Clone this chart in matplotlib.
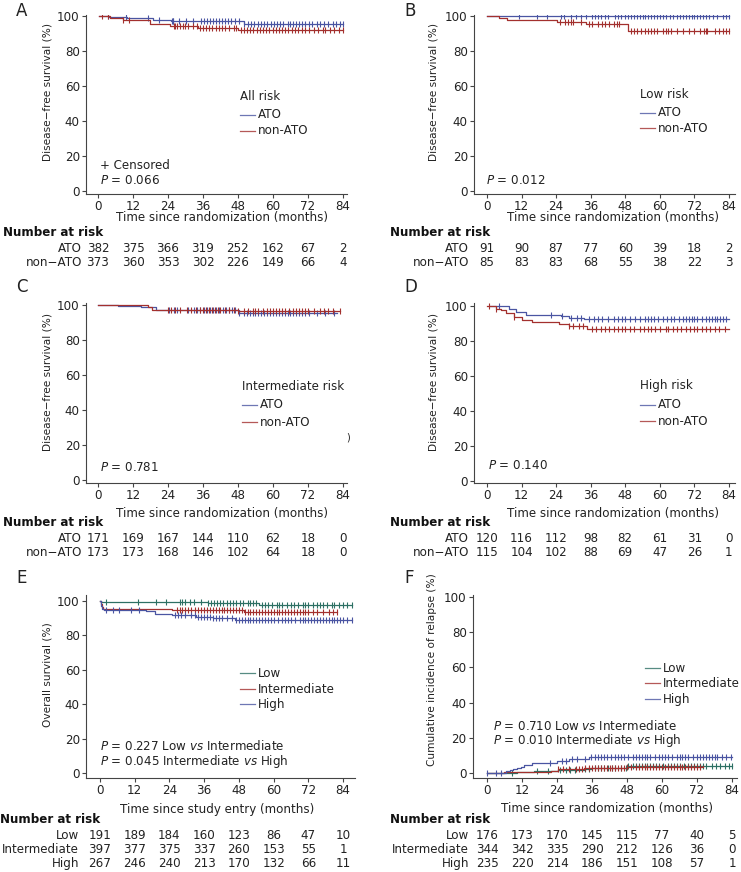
import numpy as np
import matplotlib
matplotlib.use("Agg")
import matplotlib.pyplot as plt
from matplotlib.transforms import blended_transform_factory
from matplotlib.lines import Line2D

plt.rcParams['font.family'] = ['DejaVu Sans']
plt.rcParams['mathtext.fontset'] = 'dejavusans'

W, H = 741, 872
FS = 8.6
YFS = 7.6
TXT = '#222222'
BLUE = '#4a55a2'
RED = '#a3302e'
GREEN = '#2d7064'

month_ticks = [0, 12, 24, 36, 48, 60, 72, 84]
pct_ticks = [0, 20, 40, 60, 80, 100]

# ---------------- data ----------------
# Panel A: all risk DFS
A_ato_t = [0.5, 3.9, 10, 19, 25, 50, 84]
A_ato_s = [100, 99.3, 98.7, 97.5, 97.0, 95.6, 95.6]
A_non_t = [0.5, 4, 8.6, 17.8, 24.7, 34.3, 48, 84]
A_non_s = [100, 99.0, 97.8, 95.3, 94.3, 93.0, 92.2, 92.2]
A_ato_c = [3.3, 9.6, 17, 21, 25.3, 25.6, 25.9, 27.9, 30.2, 32.5, 35.3, 36.5, 37.5, 38.5, 39.5, 40.5, 41.5, 42.5,
           43.5, 44.5, 45.5, 47, 48.5, 50, 51.5, 52.5, 53.5, 55, 56, 57, 58, 59.5, 60.5, 61.5, 62.5, 63.5, 65, 66,
           67, 68, 69, 70, 71, 72.5, 73.5, 75, 76, 77.5, 79, 80.5, 81.5, 83, 84]
A_non_c = [1.5, 3.5, 8.7, 10.5, 26, 26.5, 27, 28, 29, 30, 31, 32.5, 34, 35, 36, 37, 38, 39, 40.5, 41.5, 42.5, 43.5,
           45, 46.5, 47.5, 49, 50, 51, 52, 53, 54.5, 55.5, 56.5, 57.5, 58.5, 60, 61, 62, 63, 64, 65, 66.5, 67.5,
           68.5, 70, 71, 72.5, 74, 75.5, 77, 78, 79.5, 81, 82.5, 84]
A_risk_ato = [382, 375, 366, 319, 252, 162, 67, 2]
A_risk_non = [373, 360, 353, 302, 226, 149, 66, 4]

# Panel B: low risk DFS
B_ato_t = [0, 84]
B_ato_s = [100, 100]
B_non_t = [0, 4.2, 7, 24.3, 34.4, 49, 84]
B_non_s = [100, 98.8, 97.6, 96.4, 95.2, 91.2, 91.2]
B_ato_c = [11.1, 17.5, 20.9, 25.6, 26.7, 29, 30.8, 32.5, 34.3, 36.5, 37.5, 38.5, 39.5, 41, 42, 44.5, 45.5, 46.5,
           48, 49, 50, 51, 52, 53, 54, 55, 56, 57, 58, 59, 60, 61, 62, 63.5, 64.5, 66, 67, 68, 69, 70, 71, 72, 73,
           74, 75, 76, 77, 78.5, 80, 82, 83, 84]
B_non_c = [25.5, 27, 28, 29, 30, 32.5, 35.5, 36.5, 38.5, 40, 41, 42.5, 44, 45, 46, 50, 51, 52, 53.5, 55, 56, 57, 58,
           59, 61, 62, 63, 64, 66, 68, 70, 72, 74, 75.5, 76, 76.5, 79, 80.5, 82, 83, 84]
B_risk_ato = [91, 90, 87, 77, 60, 39, 18, 2]
B_risk_non = [85, 83, 83, 68, 55, 38, 22, 3]

# Panel C: intermediate risk DFS
C_ato_t = [0, 6.9, 14.6, 19.9, 48.5, 82]
C_ato_s = [100, 99.4, 98.8, 97.2, 95.5, 95.5]
C_non_t = [0, 17, 18.5, 48, 83]
C_non_s = [100, 98.8, 97.0, 96.5, 96.5]
C_ato_c = [24.5, 26, 27, 31, 33, 34, 35, 36.5, 37.5, 38.5, 39.5, 40.5, 41.5, 43, 44, 45, 46, 47, 48.5, 50, 51, 52,
           53, 54, 55, 56, 57, 58, 59, 60, 61, 62, 63, 64, 65, 66, 67, 68, 69, 70, 71, 72.5, 75, 78, 81]
C_non_c = [24, 25, 26.5, 28, 30.5, 32, 33.5, 35, 36, 37, 38, 39, 40, 41, 42, 43.5, 45, 46.5, 48, 50, 51.5, 53, 54,
           55, 56.5, 58, 59, 60, 61, 62, 63, 64, 65.5, 67, 68, 69, 70, 71, 72, 74, 76, 77.5, 79, 80.5, 83]
C_risk_ato = [171, 169, 167, 144, 110, 62, 18, 0]
C_risk_non = [173, 173, 168, 146, 102, 64, 18, 0]

# Panel D: high risk DFS
D_ato_t = [0.7, 7.6, 10, 13.4, 25.6, 28.5, 33.7, 84]
D_ato_s = [100, 98.5, 96.6, 94.7, 94.1, 93.3, 92.8, 92.8]
D_non_t = [0, 3, 4.8, 6.5, 9.4, 12.3, 15.7, 25, 28.5, 34.8, 84]
D_non_s = [100, 98.5, 97.5, 96.0, 93.7, 92.2, 91.0, 89.9, 88.4, 87.1, 87.1]
D_ato_c = [4.2, 22.1, 26.2, 29, 31.3, 32.5, 35.5, 37, 38.5, 40, 42, 44, 45.5, 47, 48, 49.5, 51.5, 53, 55, 56, 57,
           58, 59.5, 61, 62.5, 64, 65, 66.5, 68, 69, 70, 71, 72, 73, 74.5, 76, 77, 78, 79, 80, 81, 82, 83]
D_non_c = [0.7, 3, 9.5, 28.5, 30, 32, 33.5, 36.5, 38, 39.5, 41, 42.5, 44, 45.5, 47, 48, 49.5, 51, 53, 54.5, 56, 57,
           58.5, 60, 62, 63, 64.5, 66, 67.5, 69, 70.5, 72, 73, 74.5, 76, 77.5, 79, 80.5, 82.5]
D_risk_ato = [120, 116, 112, 98, 82, 61, 31, 0]
D_risk_non = [115, 104, 102, 88, 69, 47, 26, 1]

# Panel E: overall survival by risk group
E_low_t = [0, 0.5, 37.2, 55, 87]
E_low_s = [100, 99.5, 98.7, 97.5, 97.5]
E_int_t = [0, 0.3, 0.7, 1.2, 25, 49.6, 82]
E_int_s = [100, 98, 96.5, 95.3, 94.8, 93.4, 93.4]
E_high_t = [0, 0.3, 0.8, 1.5, 16, 19, 25, 33.2, 39, 46.5, 87]
E_high_s = [100, 97, 95.5, 94.9, 94.0, 92.6, 92.0, 90.7, 90.0, 89.2, 89.2]
E_low_c = [2, 13, 19.4, 22.8, 27.5, 28.5, 29.5, 31, 32.5, 35, 37.5, 38.5, 39.5, 40.5, 41.5, 42.5, 44, 45, 46, 47,
           48.5, 49.5, 51, 52, 53, 54, 56, 57, 58, 59.5, 61, 62, 63, 64.5, 66, 67, 68.5, 70, 71, 72, 73.5, 75, 76,
           77, 78.5, 80, 81, 82.5, 84, 85.5, 87]
E_int_c = [26.5, 27.5, 28.5, 29.5, 30.5, 31.5, 33, 34, 35, 36, 37, 38, 39, 40, 41, 42, 43, 44, 45, 46, 47, 48, 49,
           50, 51, 52, 53, 54, 55, 56, 57, 58, 59, 60, 61, 62, 63, 64, 65, 66, 67, 68, 69, 70, 71, 72, 73.5, 75,
           77, 79, 80.5, 82]
E_high_c = [2, 4.4, 6.7, 10.7, 13.6, 26, 27, 28, 29.3, 31.5, 33, 34, 35, 36, 37, 38, 39, 40, 41, 42, 44, 45.5, 47,
            48, 49, 50, 51, 52, 53, 54, 55, 56, 57, 58, 59, 60, 61.5, 63, 64, 65, 66, 67.5, 69, 70, 71, 72, 73, 74,
            75, 76, 77, 78, 79, 80, 81, 82, 83, 84, 85.5, 87]
E_risk_low = [191, 189, 184, 160, 123, 86, 47, 10]
E_risk_int = [397, 377, 375, 337, 260, 153, 55, 1]
E_risk_high = [267, 246, 240, 213, 170, 132, 66, 11]

# Panel F: cumulative incidence of relapse
F_low_t = [0, 6.4, 10.4, 16.1, 24.2, 33.3, 35.6, 48, 84]
F_low_s = [0, 0.3, 0.8, 1.3, 1.8, 2.1, 2.6, 4.0, 4.2]
F_int_t = [0, 5.9, 8, 21.8, 24.2, 33.3, 48, 74]
F_int_s = [0, 0.4, 0.8, 1.1, 2.1, 2.6, 3.6, 3.9]
F_high_t = [0, 6.4, 8, 9, 10.3, 11.5, 12.7, 15.4, 24, 28, 35, 84]
F_high_s = [0, 1.0, 1.6, 2.2, 2.8, 3.6, 4.5, 5.9, 7.0, 8.0, 9.0, 9.0]
F_low_c = [8.5, 17, 21, 25, 27, 28.5, 30, 33.5, 35, 37, 38, 39, 40, 41.5, 43, 44, 46, 47.5, 48.5, 50, 51, 52, 53,
           54, 55, 56, 57, 58, 59, 60.5, 62, 63, 64, 65, 66, 67.5, 69, 70, 71, 72, 73, 74, 75, 77, 78.5, 80, 81.5,
           83, 84]
F_int_c = [24.5, 26, 28, 30.5, 31.5, 32.5, 33.5, 35, 36, 37, 38, 39, 40, 41, 42, 43, 44, 45, 46, 47, 48, 49.5, 51,
           52, 53, 54, 55, 56, 57, 58, 59, 60, 61, 62, 63, 64, 65, 66, 67, 68, 69, 70, 71, 72, 73]
F_high_c = [0.1, 3, 4.7, 21.5, 25.6, 27, 29, 31, 33.5, 35.5, 37, 38, 39, 40, 41, 42.5, 44, 45, 46, 47, 48.5, 50, 51,
            52, 53, 54, 55, 56, 57.5, 59, 60, 61, 62, 63.5, 65, 66, 67, 68, 69, 70.5, 72, 73, 74, 75, 76, 77, 78,
            79, 80.5, 82, 83.5]
F_risk_low = [176, 173, 170, 145, 115, 77, 40, 5]
F_risk_int = [344, 342, 335, 290, 212, 126, 36, 0]
F_risk_high = [235, 220, 214, 186, 151, 108, 57, 1]

# ---------------- helpers ----------------
fig = plt.figure(figsize=(W / 100, H / 100), dpi=100)


def fx(x):
    return x / W


def fy(y):
    return 1 - y / H


def make_ax(box, xlim, ylim):
    x0, x1, y0, y1 = box
    ax = fig.add_axes([fx(x0), fy(y1), (x1 - x0) / W, (y1 - y0) / H])
    ax.set_xlim(*xlim)
    ax.set_ylim(*ylim)
    for s in ['top', 'right']:
        ax.spines[s].set_visible(False)
    for s in ['left', 'bottom']:
        ax.spines[s].set_color('#444444')
        ax.spines[s].set_linewidth(0.8)
    ax.set_xticks(month_ticks)
    ax.set_yticks(pct_ticks)
    ax.tick_params(axis='both', length=3, width=0.8, color='#444444', labelsize=FS, labelcolor=TXT)
    ax.tick_params(axis='x', pad=1.5)
    ax.tick_params(axis='y', pad=1.5)
    ax.patch.set_alpha(0)
    return ax


def curve(ax, t, s, c, col):
    ax.step(t, s, where='post', color=col, lw=0.9)
    t_arr = np.asarray(t)
    s_arr = np.asarray(s)
    idx = np.clip(np.searchsorted(t_arr, np.asarray(c), side='right') - 1, 0, len(s_arr) - 1)
    ax.plot(c, s_arr[idx], ls='none', marker='|', ms=4, mew=0.8, color=col)


def ftext(x, y, s, **kw):
    kw.setdefault('fontsize', FS)
    kw.setdefault('color', TXT)
    kw.setdefault('va', 'center')
    fig.text(fx(x), fy(y), s, **kw)


def risk_table(ax, title_xy, label_x, rows_y, labels, rows):
    ftext(title_xy[0], title_xy[1], 'Number at risk', fontweight='bold', ha='left', color='#111111')
    tr = blended_transform_factory(ax.transData, fig.transFigure)
    for yy, lab, vals in zip(rows_y, labels, rows):
        ftext(label_x, yy, lab, ha='right')
        for m, v in zip(month_ticks, vals):
            ax.text(m, fy(yy), str(v), transform=tr, ha='center', va='center', fontsize=FS, color=TXT,
                    clip_on=False)


def legend(x0, title, title_y, entries):
    # entries: list of (color, label, y)
    if title:
        ftext(x0, title_y, title, ha='left')
    for col, lab, yy in entries:
        fig.add_artist(Line2D([fx(x0), fx(x0 + 15)], [fy(yy), fy(yy)], color=col, lw=0.9, alpha=0.8,
                              transform=fig.transFigure))
        ftext(x0 + 18, yy, lab, ha='left')


# ---------------- Panel A ----------------
axA = make_ax((86, 347, 15, 194), (-4.1, 85.4), (-1.7, 100.6))
curve(axA, A_ato_t, A_ato_s, A_ato_c, BLUE)
curve(axA, A_non_t, A_non_s, A_non_c, RED)
legend(240, 'All risk', 96, [(BLUE, 'ATO', 115), (RED, 'non-ATO', 131)])
ftext(100, 165, '+ Censored', ha='left')
ftext(100, 180, r'$P$ = 0.066', ha='left')
ftext(48, 92, 'Disease\u2212free survival (%)', rotation=90, ha='center', fontsize=YFS)
ftext(222, 218, 'Time since randomization (months)', ha='center')
risk_table(axA, (3, 232), 82, [248, 263], ['ATO', 'non\u2212ATO'], [A_risk_ato, A_risk_non])
ftext(16, 11, 'A', fontsize=12, ha='left')

# ---------------- Panel B ----------------
axB = make_ax((474, 735, 15, 194), (-4.5, 86.1), (-1.7, 100.6))
curve(axB, B_ato_t, B_ato_s, B_ato_c, BLUE)
curve(axB, B_non_t, B_non_s, B_non_c, RED)
legend(640, 'Low risk', 95, [(BLUE, 'ATO', 113), (RED, 'non-ATO', 128)])
ftext(486, 180, r'$P$ = 0.012', ha='left')
ftext(433, 92, 'Disease\u2212free survival (%)', rotation=90, ha='center', fontsize=YFS)
ftext(613, 218, 'Time since randomization (months)', ha='center')
risk_table(axB, (390, 232), 469, [248, 263], ['ATO', 'non\u2212ATO'], [B_risk_ato, B_risk_non])
ftext(404, 11, 'B', fontsize=12, ha='left')

# ---------------- Panel C ----------------
axC = make_ax((86, 347, 303, 483), (-4.1, 85.4), (-1.7, 101.1))
curve(axC, C_ato_t, C_ato_s, C_ato_c, BLUE)
curve(axC, C_non_t, C_non_s, C_non_c, RED)
legend(242, 'Intermediate risk', 387, [(BLUE, 'ATO', 405), (RED, 'non-ATO', 422)])
ftext(100, 467, r'$P$ = 0.781', ha='left')
ftext(348, 437, ')', ha='center', fontsize=7)
ftext(48, 382, 'Disease\u2212free survival (%)', rotation=90, ha='center', fontsize=YFS)
ftext(222, 514, 'Time since randomization (months)', ha='center')
risk_table(axC, (3, 522), 82, [538, 552], ['ATO', 'non\u2212ATO'], [C_risk_ato, C_risk_non])
ftext(16, 287, 'C', fontsize=12, ha='left')

# ---------------- Panel D ----------------
axD = make_ax((474, 735, 303, 483), (-4.5, 86.1), (-1.2, 101.7))
curve(axD, D_ato_t, D_ato_s, D_ato_c, BLUE)
curve(axD, D_non_t, D_non_s, D_non_c, RED)
legend(640, 'High risk', 386, [(BLUE, 'ATO', 405), (RED, 'non-ATO', 421)])
ftext(488, 465, r'$P$ = 0.140', ha='left')
ftext(433, 382, 'Disease\u2212free survival (%)', rotation=90, ha='center', fontsize=YFS)
ftext(613, 514, 'Time since randomization (months)', ha='center')
risk_table(axD, (390, 522), 469, [538, 552], ['ATO', 'non\u2212ATO'], [D_risk_ato, D_risk_non])
ftext(404, 287, 'D', fontsize=12, ha='left')

# ---------------- Panel E ----------------
axE = make_ax((86, 355, 595, 778), (-4.8, 88.1), (-2.9, 103.5))
curve(axE, E_low_t, E_low_s, E_low_c, GREEN)
curve(axE, E_int_t, E_int_s, E_int_c, RED)
curve(axE, E_high_t, E_high_s, E_high_c, BLUE)
legend(240, None, None, [(GREEN, 'Low', 673), (RED, 'Intermediate', 689), (BLUE, 'High', 704)])
ftext(100, 746, r'$P$ = 0.227 Low $vs$ Intermediate', ha='left')
ftext(100, 761, r'$P$ = 0.045 Intermediate $vs$ High', ha='left')
ftext(48, 675, 'Overall survival (%)', rotation=90, ha='center', fontsize=YFS)
ftext(217, 809, 'Time since study entry (months)', ha='center')
risk_table(axE, (0, 819), 79, [835, 849, 863], ['Low', 'Intermediate', 'High'],
           [E_risk_low, E_risk_int, E_risk_high])
ftext(16, 578, 'E', fontsize=12, ha='left')

# ---------------- Panel F ----------------
axF = make_ax((473, 737, 595, 778), (-4.8, 85.7), (-2.8, 101.1))
curve(axF, F_low_t, F_low_s, F_low_c, GREEN)
curve(axF, F_int_t, F_int_s, F_int_c, RED)
curve(axF, F_high_t, F_high_s, F_high_c, BLUE)
legend(645, None, None, [(GREEN, 'Low', 668), (RED, 'Intermediate', 683), (BLUE, 'High', 699)])
ftext(493, 726, r'$P$ = 0.710 Low $vs$ Intermediate', ha='left')
ftext(493, 740, r'$P$ = 0.010 Intermediate $vs$ High', ha='left')
ftext(432, 670, 'Cumulative incidence of relapse (%)', rotation=90, ha='center', fontsize=YFS)
ftext(607, 808, 'Time since randomization (months)', ha='center')
risk_table(axF, (390, 819), 469, [835, 849, 863], ['Low', 'Intermediate', 'High'],
           [F_risk_low, F_risk_int, F_risk_high])
ftext(404, 578, 'F', fontsize=12, ha='left')

fig.savefig('out.png', dpi=100)
